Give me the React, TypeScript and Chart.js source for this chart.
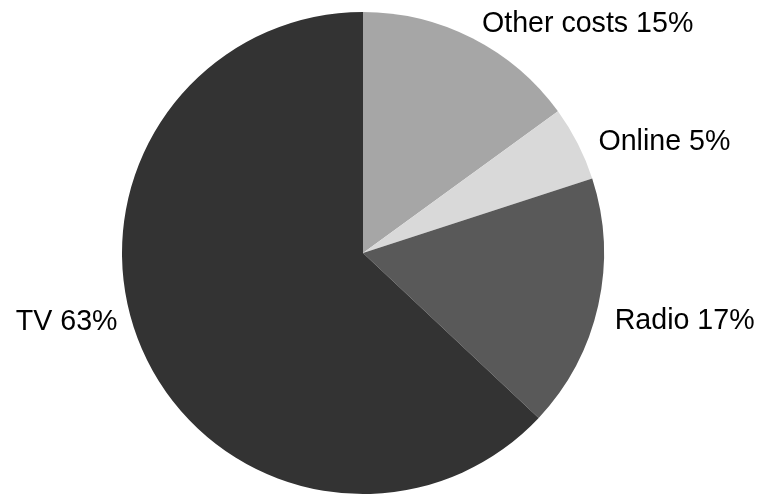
import React, { useEffect, useRef } from "react";
import { Chart, registerables } from "chart.js";

Chart.register(...registerables);

const categories = ["Other costs", "Online", "Radio", "TV"];
const shares = [15, 5, 17, 63];
const sliceColors = ["#a6a6a6", "#d9d9d9", "#595959", "#333333"];
// small nudges of each label from its computed outside anchor
const labelNudges: [number, number][] = [
  [0, 5],
  [2, 8],
  [-4, 11],
  [-5, -35],
];

const outsideLabels = {
  id: "outsideLabels",
  afterDatasetsDraw(chart: any) {
    const ctx = chart.ctx;
    const meta = chart.getDatasetMeta(0);
    ctx.save();
    ctx.font = '28.6px "Liberation Sans", Arial, sans-serif';
    ctx.fillStyle = "#000000";
    ctx.textBaseline = "middle";
    meta.data.forEach((arc: any, i: number) => {
      const p = arc.getProps(["x", "y", "startAngle", "endAngle", "outerRadius"], true);
      const mid = (p.startAngle + p.endAngle) / 2;
      const R = p.outerRadius + 21;
      const cx = Math.cos(mid);
      const ax = p.x + R * cx + labelNudges[i][0];
      const ay = p.y + R * Math.sin(mid) + labelNudges[i][1];
      ctx.textAlign = cx >= 0 ? "left" : "right";
      ctx.fillText(`${categories[i]} ${shares[i]}%`, ax, ay);
    });
    ctx.restore();
  },
};

export default function App() {
  const canvasRef = useRef<HTMLCanvasElement | null>(null);

  useEffect(() => {
    document.body.style.margin = "0";
    const canvas = canvasRef.current;
    if (!canvas) return;
    const chart = new Chart(canvas, {
      type: "pie",
      data: {
        labels: categories,
        datasets: [
          {
            data: shares,
            backgroundColor: sliceColors,
            borderWidth: 0,
          },
        ],
      },
      options: {
        responsive: false,
        animation: false,
        layout: { padding: { left: 100, right: 135, top: 12, bottom: 2 } },
        plugins: {
          legend: { display: false },
          tooltip: { enabled: false },
        },
      },
      plugins: [outsideLabels],
    });
    return () => chart.destroy();
  }, []);

  return (
    <div style={{ width: 761, height: 496, background: "#ffffff" }}>
      <canvas ref={canvasRef} width={761} height={496} style={{ display: "block" }} />
    </div>
  );
}
